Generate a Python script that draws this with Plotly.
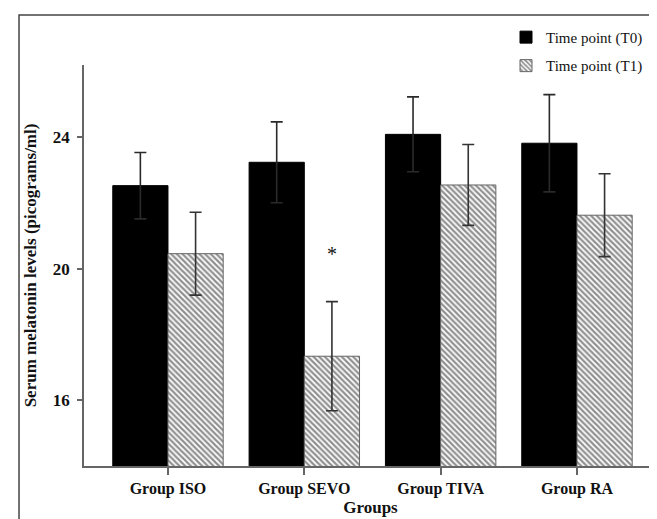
import plotly.graph_objects as go

groups = ["Group ISO", "Group SEVO", "Group TIVA", "Group RA"]
t0_values = [22.53, 23.24, 24.09, 23.82]
t0_errors = [1.01, 1.23, 1.14, 1.48]
t1_values = [20.46, 17.34, 22.55, 21.63]
t1_errors = [1.26, 1.66, 1.23, 1.26]
y_ticks = [16, 20, 24]
sig_group = "Group SEVO"
sig_value = 20.45

FONT = "Liberation Serif, Times New Roman, serif"

fig = go.Figure()
fig.add_trace(go.Bar(
    x=groups, y=t0_values, name="Time point (T0)", legendgroup="a",
    marker=dict(color="black", line=dict(color="black", width=1)),
    error_y=dict(type="data", array=t0_errors, symmetric=True,
                 color="#2a2a2a", thickness=1.6, width=6),
))
fig.add_trace(go.Bar(
    x=groups, y=t1_values, name="Time point (T1)", legendgroup="b",
    marker=dict(color="white", line=dict(color="#666", width=1),
                pattern=dict(shape="\\", size=4, solidity=0.55,
                             fgcolor="#222", bgcolor="white")),
    error_y=dict(type="data", array=t1_errors, symmetric=True,
                 color="#333", thickness=1.6, width=6),
))

fig.add_annotation(x=sig_group, y=sig_value, xref="x", yref="y", text="*",
                   showarrow=False, xshift=27.6,
                   font=dict(family=FONT, size=20, color="#111"))

# outer frame
fig.add_shape(type="rect", xref="paper", yref="paper",
              x0=-0.1134, x1=1.0035, y0=-0.2, y1=1.1247,
              line=dict(color="#444", width=1.5), layer="below")

fig.update_layout(
    width=657, height=519,
    margin=dict(l=76, r=8, t=57, b=61, autoexpand=False),
    paper_bgcolor="white", plot_bgcolor="white",
    barmode="group", bargap=0.19, bargroupgap=0,
    font=dict(family=FONT, color="#111"),
    legend=dict(x=0.7365, y=1.11,
                xanchor="left", yanchor="top", tracegroupgap=6,
                font=dict(family=FONT, size=15, color="#111"),
                bgcolor="rgba(0,0,0,0)", itemwidth=30),
    xaxis=dict(
        type="category", range=[-0.616, 3.587],
        showline=True, linecolor="#666", linewidth=1.5,
        ticks="outside", ticklen=7, tickcolor="#666", tickwidth=1.5,
        tickfont=dict(family=FONT, size=16, color="#111", weight="bold"),
        title=dict(text="<b>Groups</b>", font=dict(family=FONT, size=17, color="#111"),
                   standoff=2),
        showgrid=False, zeroline=False,
    ),
    yaxis=dict(
        range=[14, 26.2], tickvals=y_ticks,
        showline=True, linecolor="#666", linewidth=1.5,
        ticks="outside", ticklen=5, tickcolor="#666", tickwidth=1.5,
        tickfont=dict(family=FONT, size=17, color="#111", weight="bold"),
        ticklabelstandoff=4,
        title=dict(text="<b>Serum melatonin levels (picograms/ml)</b>",
                   font=dict(family=FONT, size=17, color="#111"), standoff=12),
        showgrid=False, zeroline=False,
    ),
)

fig.write_html("out.html")
